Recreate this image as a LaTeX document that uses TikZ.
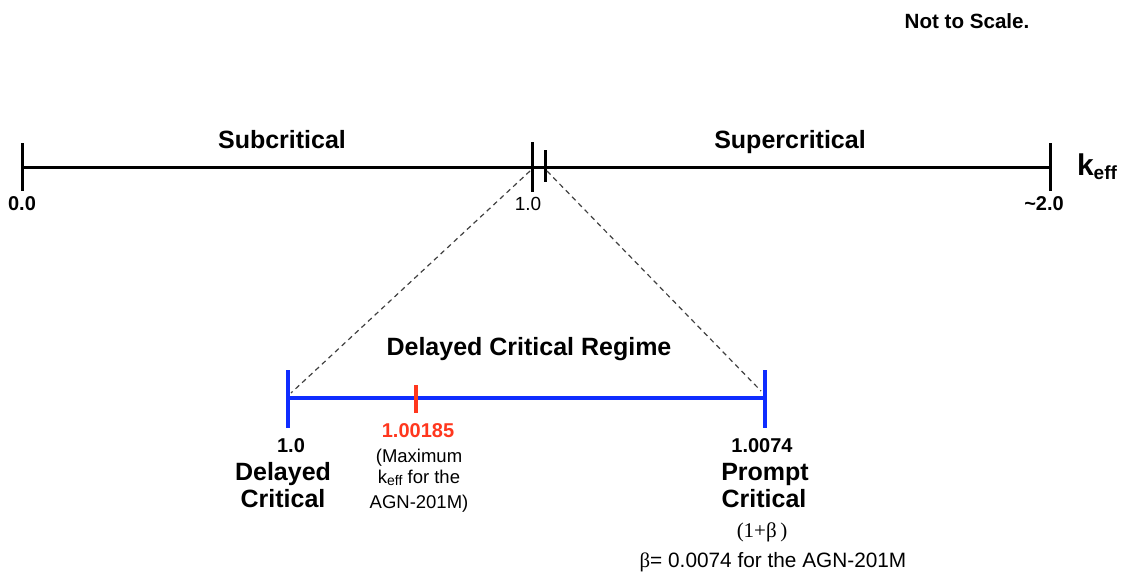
\documentclass[tikz,border=0pt]{standalone}
\usepackage{fontspec}
\setmainfont{Liberation Sans}
\newfontfamily\greekserif{Liberation Serif}
\definecolor{regimeblue}{RGB}{15,45,255}
\definecolor{maxred}{RGB}{255,55,30}
\tikzset{
  axis line/.style={line width=3pt, black},
  axis tick/.style={line width=3pt, black},
  regime line/.style={line width=4pt, regimeblue},
  regime tick/.style={line width=4pt, regimeblue},
  max tick/.style={line width=4.5pt, maxred},
  zoom line/.style={line width=1.2pt, black!75, dash pattern=on 5pt off 4pt},
  lbl/.style={anchor=base, inner sep=0pt, outer sep=0pt},
}
\newcommand{\bigLabel}{\fontsize{25}{30}\selectfont\bfseries}
\newcommand{\valLabel}{\fontsize{20}{24}\selectfont\bfseries}
\newcommand{\noteLabel}{\fontsize{18.5}{22}\selectfont}

\begin{document}
\begin{tikzpicture}[x=1pt, y=-1pt]
  \useasboundingbox (0,0) rectangle (1132,576);
  \node[lbl] (scale) at (967,28) {\fontsize{20.6}{24}\selectfont\bfseries Not to Scale.};

  % k_eff axis
  \coordinate (k0) at (22,167);
  \coordinate (k1) at (532,167);
  \coordinate (k1p) at (545,167);
  \coordinate (k2) at (1050,167);
  \draw[axis line] (k0) -- (k2);
  \draw[axis tick] (22,143) -- (22,191);
  \draw[axis tick] (532,142) -- (532,192);
  \draw[axis tick] (545,150) -- (545,182);
  \draw[axis tick] (1050,143) -- (1050,191);
  \node[lbl] (sub) at (282,148) {\bigLabel Subcritical};
  \node[lbl] (super) at (790,148) {\bigLabel Supercritical};
  \node[lbl] (zero) at (22,210) {\valLabel 0.0};
  \node[lbl] (one) at (528,210) {\fontsize{19}{22}\selectfont 1.0};
  \node[lbl] (two) at (1044,210) {\valLabel \char`~2.0};
  \node[lbl, anchor=base west] (keff) at (1077,175) {\fontsize{30}{30}\selectfont\bfseries k\raisebox{-0.3ex}{\fontsize{19}{20}\selectfont eff}};

  % delayed critical regime
  \coordinate (d0) at (288,398);
  \coordinate (dm) at (416,398);
  \coordinate (d1) at (765,398);
  \coordinate (z0) at (530,171);
  \coordinate (z1) at (547,171);
  \coordinate (e0) at (291,393);
  \coordinate (e1) at (761,391);
  \draw[zoom line] (z0) -- (e0);
  \draw[zoom line] (z1) -- (e1);
  \node[lbl] (regime) at (529,355) {\bigLabel Delayed Critical Regime};
  \draw[regime line] (d0) -- (d1);
  \draw[regime tick] (288,370) -- (288,428);
  \draw[regime tick] (765,370) -- (765,428);
  \draw[max tick] (416,385) -- (416,413);

  \node[lbl] (dval) at (291,452) {\valLabel 1.0};
  \node[lbl] (dname) at (283,480) {\bigLabel Delayed};
  \node[lbl] (dcrit) at (283,507) {\bigLabel Critical};

  \node[lbl] (mval) at (418,437) {\valLabel\color{maxred} 1.00185};
  \node[lbl] (mnote1) at (419,462) {\noteLabel (Maximum};
  \node[lbl] (mnote2) at (419,483) {\noteLabel k\raisebox{-0.3ex}{\fontsize{14}{16}\selectfont eff} for the};
  \node[lbl] (mnote3) at (419,508) {\noteLabel AGN-201M)};

  \node[lbl] (pval) at (762,452) {\valLabel 1.0074};
  \node[lbl] (pname) at (765,480) {\bigLabel Prompt};
  \node[lbl] (pcrit) at (764,507) {\bigLabel Critical};
  \node[lbl] (pbeta) at (762,537) {\fontsize{21}{24}\selectfont\greekserif (1+β\,)};
  \node[lbl] (pnote) at (773,567) {\fontsize{20.8}{24}\selectfont{\greekserif β}= 0.0074 for the AGN-201M};
\end{tikzpicture}
\end{document}
